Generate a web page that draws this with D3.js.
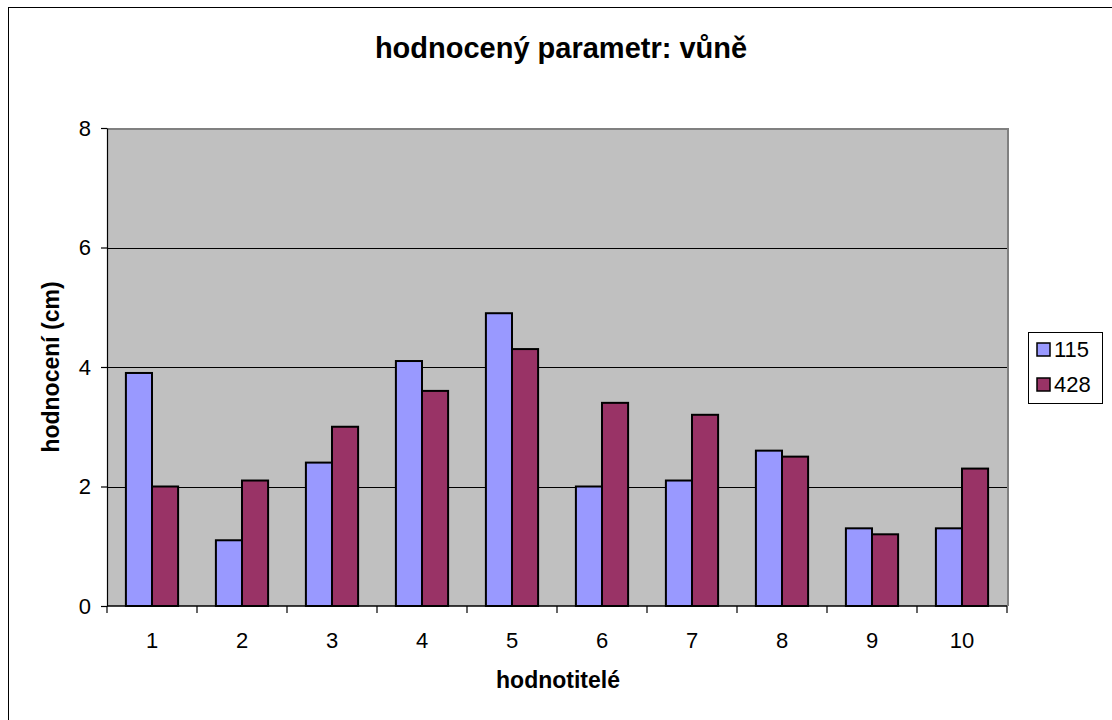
<!DOCTYPE html>
<html>
<head>
<meta charset="utf-8">
<script src="https://d3js.org/d3.v7.min.js"></script>
<style>
  body { margin: 0; background: #fff; }
  text { font-family: "Liberation Sans", Arial, sans-serif; fill: #000; }
</style>
</head>
<body>
<script>
var categories = ["1", "2", "3", "4", "5", "6", "7", "8", "9", "10"];
var series115 = [3.9, 1.1, 2.4, 4.1, 4.9, 2.0, 2.1, 2.6, 1.3, 1.3];
var series428 = [2.0, 2.1, 3.0, 3.6, 4.3, 3.4, 3.2, 2.5, 1.2, 2.3];
var seriesNames = ["115", "428"];
var yTicks = [0, 2, 4, 6, 8];

var colors = { "115": "#9999ff", "428": "#993366" };
var width = 1112, height = 720;
var plot = { left: 107, top: 128, right: 1007, bottom: 606 };

var svg = d3.select("body").append("svg")
    .attr("width", width)
    .attr("height", height);

// outer chart border
svg.append("rect")
    .attr("x", 8.5).attr("y", 7.5)
    .attr("width", 1120).attr("height", 720)
    .attr("fill", "#fff").attr("stroke", "#000").attr("stroke-width", 1);

var x = d3.scaleBand()
    .domain(categories)
    .range([plot.left, plot.right])
    .paddingInner(0.42)
    .paddingOuter(0.21);

var x1 = d3.scaleBand()
    .domain(seriesNames)
    .range([0, x.bandwidth()]);

var y = d3.scaleLinear()
    .domain([0, 8])
    .range([plot.bottom, plot.top]);

// plot background
svg.append("rect")
    .attr("x", plot.left).attr("y", plot.top)
    .attr("width", plot.right - plot.left).attr("height", plot.bottom - plot.top)
    .attr("fill", "#c0c0c0");

// gridlines
svg.append("g").selectAll("line")
    .data(yTicks.filter(function(d) { return d > 0 && d < 8; }))
    .enter().append("line")
    .attr("x1", plot.left).attr("x2", plot.right)
    .attr("y1", function(d) { return Math.round(y(d)) + 0.5; })
    .attr("y2", function(d) { return Math.round(y(d)) + 0.5; })
    .attr("stroke", "#000").attr("stroke-width", 1);

// gray frame top / right
svg.append("path")
    .attr("d", "M" + plot.left + "," + (plot.top + 1) + "H" + (plot.right + 1) + "V" + plot.bottom)
    .attr("fill", "none").attr("stroke", "#808080").attr("stroke-width", 2);

// bars
var rows = categories.map(function(c, i) {
    return { cat: c, values: [
        { name: "115", value: series115[i] },
        { name: "428", value: series428[i] }
    ] };
});

var groups = svg.append("g").selectAll("g")
    .data(rows)
    .enter().append("g")
    .attr("transform", function(d) { return "translate(" + x(d.cat) + ",0)"; });

groups.selectAll("rect")
    .data(function(d) { return d.values; })
    .enter().append("rect")
    .attr("x", function(d) { return x1(d.name); })
    .attr("y", function(d) { return y(d.value); })
    .attr("width", x1.bandwidth())
    .attr("height", function(d) { return plot.bottom - y(d.value); })
    .attr("fill", function(d) { return colors[d.name]; })
    .attr("stroke", "#000").attr("stroke-width", 2);

// y axis
var yAxis = svg.append("g")
    .attr("transform", "translate(" + plot.left + ",0)")
    .call(d3.axisLeft(y).tickValues(yTicks).tickSize(6).tickPadding(10).tickSizeOuter(0));
yAxis.selectAll("text").style("font-size", "22px").attr("font-family", null);
yAxis.selectAll("line, path").attr("stroke", "#000").attr("stroke-width", 1.2);

// x axis with ticks between categories
var xAxisG = svg.append("g");
xAxisG.append("line")
    .attr("x1", plot.left).attr("x2", plot.right)
    .attr("y1", plot.bottom).attr("y2", plot.bottom)
    .attr("stroke", "#000").attr("stroke-width", 1.5);
var step = x.step();
xAxisG.selectAll(".tk")
    .data(d3.range(categories.length + 1))
    .enter().append("line")
    .attr("x1", function(i) { return plot.left + i * step; })
    .attr("x2", function(i) { return plot.left + i * step; })
    .attr("y1", plot.bottom).attr("y2", plot.bottom + 7)
    .attr("stroke", "#000").attr("stroke-width", 1.2);
xAxisG.selectAll(".lbl")
    .data(categories)
    .enter().append("text")
    .attr("x", function(d) { return x(d) + x.bandwidth() / 2; })
    .attr("y", 648)
    .attr("text-anchor", "middle")
    .style("font-size", "22px")
    .text(function(d) { return d; });

// titles
svg.append("text")
    .attr("x", 561).attr("y", 58)
    .attr("text-anchor", "middle")
    .style("font-size", "29px").style("font-weight", "bold")
    .text("hodnocený parametr: vůně");

svg.append("text")
    .attr("x", 558).attr("y", 688)
    .attr("text-anchor", "middle")
    .style("font-size", "23px").style("font-weight", "bold")
    .text("hodnotitelé");

svg.append("text")
    .attr("transform", "translate(59,367) rotate(-90)")
    .attr("text-anchor", "middle")
    .style("font-size", "23px").style("font-weight", "bold")
    .text("hodnocení (cm)");

// legend
var legend = svg.append("g").attr("transform", "translate(1028,332)");
legend.append("rect")
    .attr("x", 0.5).attr("y", 0.5).attr("width", 74).attr("height", 71)
    .attr("fill", "#fff").attr("stroke", "#000").attr("stroke-width", 1);
var items = legend.selectAll(".item")
    .data(seriesNames)
    .enter().append("g")
    .attr("transform", function(d, i) { return "translate(9," + (11 + i * 35) + ")"; });
items.append("rect")
    .attr("width", 13).attr("height", 13)
    .attr("fill", function(d) { return colors[d]; })
    .attr("stroke", "#000").attr("stroke-width", 1.5);
items.append("text")
    .attr("x", 17).attr("y", 14)
    .style("font-size", "22px")
    .text(function(d) { return d; });
</script>
</body>
</html>
